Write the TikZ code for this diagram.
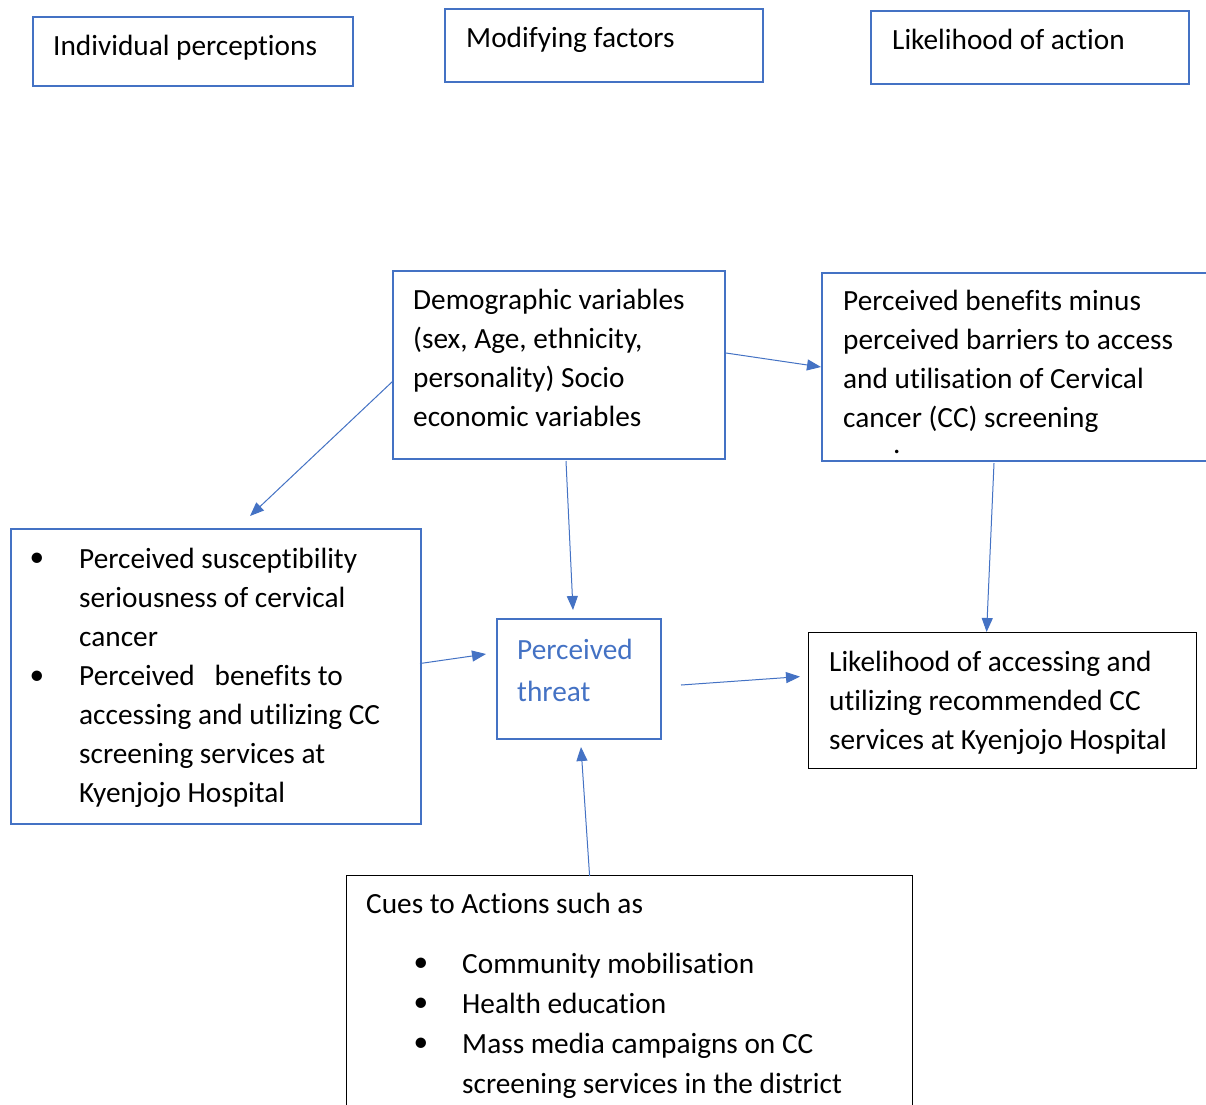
\documentclass[tikz,border=0pt]{standalone}
\usepackage{fontspec}
\setmainfont[Ligatures={NoCommon}]{Carlito}
\usetikzlibrary{arrows.meta,calc}
\definecolor{wblue}{RGB}{68,114,196}
\begin{document}
\begin{tikzpicture}[x=1pt,y=-1pt,
 bbox/.style={draw=wblue,line width=2pt,inner sep=0,anchor=north west},
 kbox/.style={draw=black,line width=1.2pt,inner sep=0,anchor=north west},
 txt/.style={anchor=north west,inner sep=0,align=left,font=\fontsize{29.3}{39}\selectfont},
 bul/.style={inner sep=0,font=\fontsize{29.3}{39}\selectfont},
 arr/.style={draw=wblue,line width=1pt,-{Triangle[length=14pt,width=11pt]}}]
\useasboundingbox (0,0) rectangle (1206,1104);
\clip (0,0) rectangle (1206,1104);
\fill[white] (0,0) rectangle (1206,1104);

% header boxes
\node[bbox,minimum width=320,minimum height=69] (indiv) at (32,16) {};
\node[txt] (indivt) at (53,27.7) {\strut Individual perceptions};
\node[bbox,minimum width=318,minimum height=73] (modif) at (444,8) {};
\node[txt] (modift) at (466,19.7) {\strut Modifying factors};
\node[bbox,minimum width=318,minimum height=73] (likeact) at (870,10) {};
\node[txt] (likeactt) at (892,21.7) {\strut Likelihood of action};

% demographic
\node[bbox,minimum width=332,minimum height=188] (demo) at (392,270) {};
\node[txt] (demot) at (413,281.7) {\strut Demographic variables\\(sex, Age, ethnicity,\\personality) Socio\\economic variables};

% benefits
\node[bbox,minimum width=400,minimum height=188] (benef) at (821,272) {};
\node[txt] (beneft) at (843,282.7) {\strut Perceived benefits minus\\perceived barriers to access\\and utilisation of Cervical\\cancer (CC) screening};
\node[inner sep=0,anchor=base west,font=\fontsize{29.3}{39}\selectfont] (dot) at (893,453) {.};

% individual perceptions
\node[bbox,minimum width=410,minimum height=295] (percep) at (10,528) {};
\node[txt] (percept) at (79,540.7) {\strut Perceived susceptibility\\seriousness of cervical\\cancer\\Perceived\ \ \ benefits to\\accessing and utilizing CC\\screening services at\\Kyenjojo Hospital};
\node[bul] (b1) at (37,560) {•};
\node[bul] (b2) at (37,678) {•};

% perceived threat
\node[bbox,minimum width=164,minimum height=120] (threat) at (496,618) {};
\node[txt,text=wblue,font=\fontsize{29.3}{42}\selectfont] (threatt) at (517,630) {\strut Perceived\\threat};

% likelihood
\node[kbox,minimum width=388,minimum height=136] (likely) at (808,632) {};
\node[txt] (likelyt) at (829,643.7) {\strut Likelihood of accessing and\\utilizing recommended CC\\services at Kyenjojo Hospital};

% cues
\node[kbox,minimum width=566,minimum height=260] (cues) at (346,875) {};
\node[txt] (cuest) at (366,885.7) {\strut Cues to Actions such as};
\node[txt,font=\fontsize{29.3}{40}\selectfont] (cuesl) at (462,945.5) {\strut Community mobilisation\\Health education\\Mass media campaigns on CC\\screening services in the district};
\node[bul] (c1) at (421,965) {•};
\node[bul] (c2) at (421,1005) {•};
\node[bul] (c3) at (421,1045) {•};

% arrows
\draw[arr] ($(demo.west)+(1,16)$) -- ($(percep.north)+(34,-12)$);
\draw[arr] ($(demo.east)+(0,-12)$) -- (benef.west);
\draw[arr] ($(demo.south)+(7,1)$) -- ($(threat.north)+(-6,-8)$);
\draw[arr] ($(benef.south west)+(173,1)$) -- ($(likely.north)+(-16,0)$);
\draw[arr] ($(percep.east)+(-2,-13)$) -- ($(threat.west)+(-10,-25)$);
\draw[arr] ($(threat.east)+(19,6)$) -- ($(likely.west)+(-8,-24)$);
\draw[arr] ($(cues.north)+(-40,1)$) -- ($(threat.south)+(2,7)$);
\end{tikzpicture}
\end{document}
